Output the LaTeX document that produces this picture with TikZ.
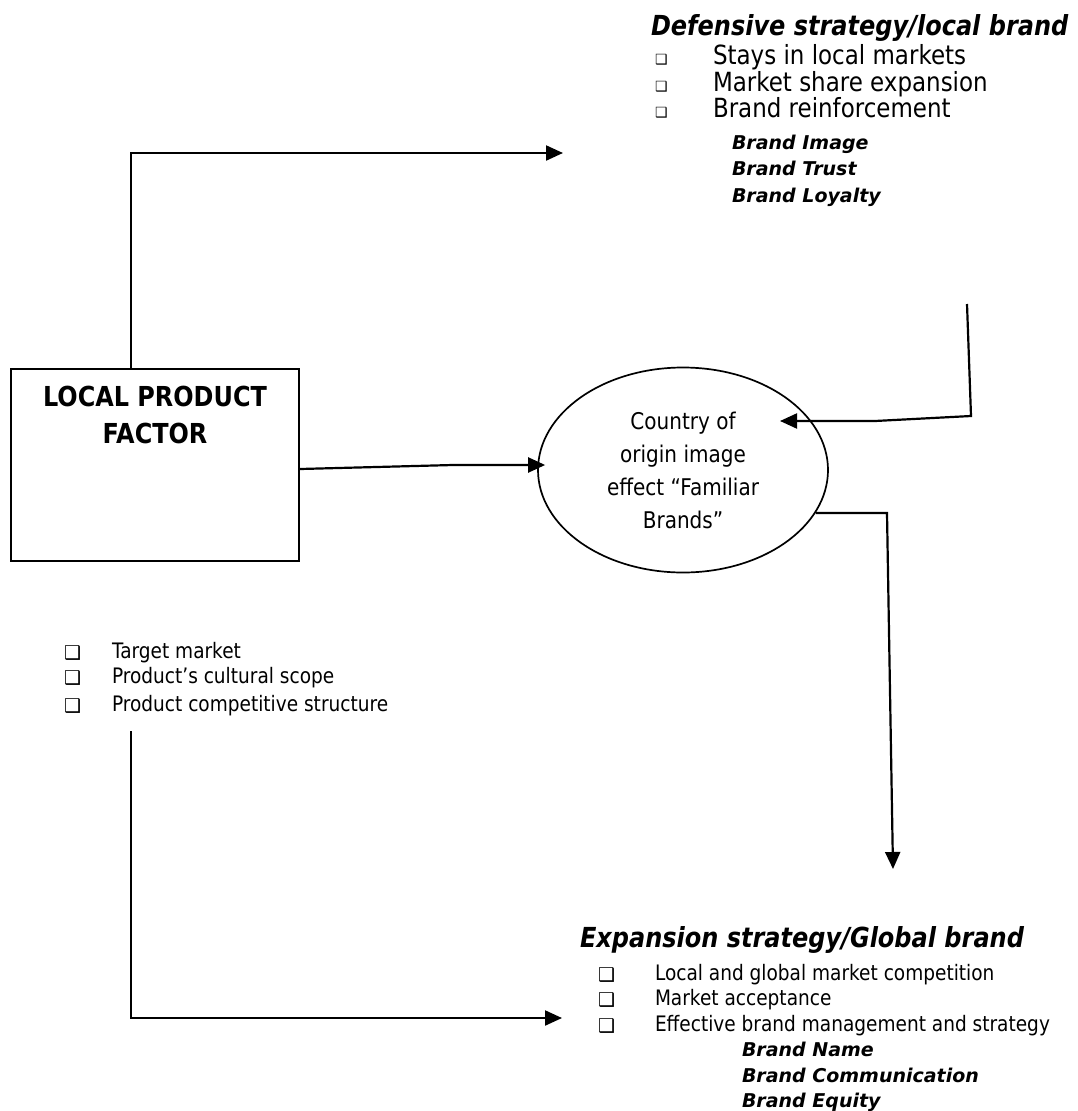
\documentclass[tikz,border=0pt]{standalone}
\usepackage{fontspec}
\setmainfont{DejaVu Sans}[FakeStretch=0.87]
\newfontfamily\subfont{DejaVu Sans}
\newfontfamily\bulfont{DejaVu Sans}
\usetikzlibrary{arrows.meta,shapes.geometric,calc}
\begin{document}
\begin{tikzpicture}[x=1pt,y=-1pt,
  lbl/.style={anchor=base west, inner sep=0pt, outer sep=0pt},
  head/.style={lbl, font=\fontsize{27.6}{30}\selectfont\bfseries\itshape},
  itemA/.style={lbl, font=\fontsize{26.4}{30}\selectfont},
  subA/.style={lbl, font=\subfont\fontsize{19}{22}\selectfont\bfseries\itshape},
  itemB/.style={lbl, font=\fontsize{21.3}{24}\selectfont},
  bulA/.style={lbl, font=\bulfont\fontsize{14}{16}\selectfont},
  bulB/.style={lbl, font=\bulfont\fontsize{19}{20}\selectfont},
  boxtext/.style={anchor=base, inner sep=0pt, font=\fontsize{27.5}{30}\selectfont\bfseries},
  conn/.style={line width=2.2pt, line join=miter},
  arr/.style={conn, -{Triangle[length=17pt,width=15pt]}},
]
\useasboundingbox (0,0) rectangle (1078,1111);

% central shapes
\node[draw, line width=2.2pt, minimum width=288pt, minimum height=192pt, inner sep=0pt] (box) at (155,465) {};
\node[boxtext] (boxt1) at (155,406) {LOCAL PRODUCT};
\node[boxtext] (boxt2) at (155,443) {FACTOR};

\node[draw, ellipse, line width=1.7pt, minimum width=290pt, minimum height=205pt, inner sep=0pt,
      align=center, font=\fontsize{23}{33}\selectfont] (coo) at (683,470)
      {Country of\\origin image\\effect “Familiar\\Brands”};

% top block
\node[head] (defh) at (651,35) {Defensive strategy/local brand};
\node[bulA] (ba1) at (655,64) {❑};
\node[bulA] (ba2) at (655,91) {❑};
\node[bulA] (ba3) at (655,117) {❑};
\node[itemA] (ia1) at (713,64) {Stays in local markets};
\node[itemA] (ia2) at (713,91) {Market share expansion};
\node[itemA] (ia3) at (713,117) {Brand reinforcement};
\node[subA] (sa1) at (732,149) {Brand Image};
\node[subA] (sa2) at (732,175) {Brand Trust};
\node[subA] (sa3) at (732,202) {Brand Loyalty};

% left list
\node[bulB] (bl1) at (64,659) {❑};
\node[bulB] (bl2) at (64,684) {❑};
\node[bulB] (bl3) at (64,712) {❑};
\node[itemB] (il1) at (112,658) {Target market};
\node[itemB] (il2) at (112,683) {Product’s cultural scope};
\node[itemB] (il3) at (112,711) {Product competitive structure};

% bottom block
\node[head] (exph) at (580,947) {Expansion strategy/Global brand};
\node[bulB] (bb1) at (598,981) {❑};
\node[bulB] (bb2) at (598,1006) {❑};
\node[bulB] (bb3) at (598,1032) {❑};
\node[itemB] (ib1) at (655,980) {Local and global market competition};
\node[itemB] (ib2) at (655,1005) {Market acceptance};
\node[itemB] (ib3) at (655,1031) {Effective brand management and strategy};
\node[subA] (sb1) at (742,1056) {Brand Name};
\node[subA] (sb2) at (742,1082) {Brand Communication};
\node[subA] (sb3) at (742,1107) {Brand Equity};

% connectors
\coordinate (c1) at (131,153);
\coordinate (t1) at (563,153);
\draw[arr] (box.north -| c1) -- (c1) -- (t1);

\coordinate (k1) at (453,465);
\draw[arr, shorten >=-8pt] ($(box.east)+(0,4)$) -- (k1) -- (k1 -| coo.west);

\coordinate (r1) at (967,304);
\coordinate (r2) at (971,416);
\coordinate (r2b) at (875,421);
\coordinate (r3) at (780,421);
\draw[arr] (r1) -- (r2) -- (r2b) -- (r3);

\coordinate (d1) at (887,513);
\coordinate (d2) at (893,869);
\draw[arr] (coo.-18) -- (coo.-18 -| d1) -- (d2);

\coordinate (b1) at (131,731);
\coordinate (b2) at (131,1018);
\coordinate (b3) at (562,1018);
\draw[arr] (b1) -- (b2) -- (b3);
\end{tikzpicture}
\end{document}
